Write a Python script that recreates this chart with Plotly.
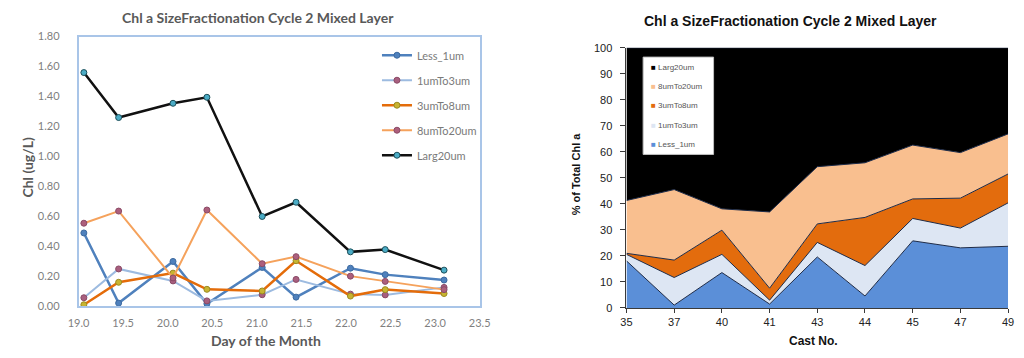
import plotly.graph_objects as go

# ---- Left panel: Chl a concentration by size fraction vs. day ----
days = [19.06, 19.45, 20.06, 20.44, 21.06, 21.44, 22.05, 22.44, 23.10]
less_1um = [0.49, 0.022, 0.30, 0.018, 0.26, 0.062, 0.255, 0.212, 0.176]
um1_to_3 = [0.058, 0.25, 0.17, 0.037, 0.078, 0.18, 0.082, 0.077, 0.127]
um3_to_8 = [0.011, 0.161, 0.222, 0.114, 0.103, 0.305, 0.069, 0.112, 0.086]
um8_to_20 = [0.555, 0.636, 0.19, 0.643, 0.285, 0.332, 0.202, 0.167, 0.112]
larg_20um = [1.56, 1.26, 1.355, 1.395, 0.60, 0.695, 0.364, 0.379, 0.242]

# ---- Right panel: percent of total Chl a by cast ----
casts = ["35", "37", "40", "41", "43", "44", "45", "47", "49"]
pct_less_1um = [18.1, 1.1, 13.6, 1.5, 19.6, 4.6, 25.8, 23.1, 23.7]
pct_1_to_3 = [2.5, 10.6, 7.0, 1.5, 5.6, 11.7, 8.6, 7.6, 16.7]
pct_3_to_8 = [0.4, 6.7, 9.3, 4.6, 7.1, 18.5, 7.5, 11.5, 11.1]
pct_8_to_20 = [20.3, 27.1, 8.2, 29.3, 22.0, 21.0, 20.7, 17.5, 15.4]
pct_larg_20 = [58.7, 54.5, 61.9, 63.1, 45.7, 44.2, 37.4, 40.3, 33.1]

W, H = 1024, 358


def px_x(v):
    return v / W


def px_y(v):
    return 1 - v / H


fig = go.Figure()

left_series = [
    ("Less_1um", less_1um, "#4f81bd", "#4f81bd", "#3d6aa0", 2.5),
    ("1umTo3um", um1_to_3, "#9dbbe0", "#a85f7f", "#8a4a66", 2),
    ("3umTo8um", um3_to_8, "#e46c0a", "#c8b431", "#9a8a20", 2.5),
    ("8umTo20um", um8_to_20, "#f5a25c", "#ad5f7c", "#8a4a66", 2),
    ("Larg20um", larg_20um, "#111111", "#4bacc6", "#1d4f5a", 2.5),
]
for name, vals, lc, mc, mlc, lw in left_series:
    fig.add_trace(go.Scatter(
        x=days, y=vals, mode="lines+markers", name=name,
        line=dict(color=lc, width=lw),
        marker=dict(color=mc, size=6, line=dict(color=mlc, width=1)),
        legendgroup=name, xaxis="x", yaxis="y", legend="legend",
    ))

stack_series = [
    ("Less_1um", pct_less_1um, "#5b8fd8"),
    ("1umTo3um", pct_1_to_3, "#dde6f3"),
    ("3umTo8um", pct_3_to_8, "#e36c0d"),
    ("8umTo20um", pct_8_to_20, "#f9bf8f"),
    ("Larg20um", pct_larg_20, "#000000"),
]
for name, vals, fc in stack_series:
    fig.add_trace(go.Scatter(
        x=casts, y=vals, mode="lines", stackgroup="pct", name=name,
        line=dict(color="#1e2b47", width=1), fillcolor=fc,
        showlegend=False, xaxis="x2", yaxis="y2",
    ))

left_font = dict(family="Lato", size=11, color="#7f7f7f")
frame = "#a9c5e8"

fig.update_layout(
    width=W, height=H,
    margin=dict(l=0, r=0, t=0, b=0),
    paper_bgcolor="white", plot_bgcolor="white",
    xaxis=dict(
        domain=[px_x(69), px_x(479)], range=[19, 23.5], dtick=0.5, tick0=19,
        tickformat=".1f", showline=True, mirror=True, linecolor=frame, linewidth=1.5,
        showgrid=False, zeroline=False, ticks="outside", ticklen=6,
        tickcolor="rgba(0,0,0,0)", tickfont=left_font, anchor="y",
    ),
    yaxis=dict(
        domain=[px_y(310.7), px_y(30.7)], range=[0, 1.8], dtick=0.2,
        tickformat=".2f", showline=True, mirror=True, linecolor=frame, linewidth=1.5,
        showgrid=False, zeroline=False, ticks="outside", ticklen=15,
        tickcolor="rgba(0,0,0,0)", tickfont=left_font, anchor="x",
    ),
    xaxis2=dict(
        domain=[px_x(629), px_x(1019)], type="category", range=[0, 8],
        showline=True, linecolor="#3a3a3a", linewidth=1, showgrid=False,
        zeroline=False, ticks="outside", ticklen=4, tickcolor="#3a3a3a",
        tickfont=dict(family="Liberation Sans", size=11, color="#222222"),
        anchor="y2",
    ),
    yaxis2=dict(
        domain=[px_y(312.3), px_y(42.3)], range=[0, 100], dtick=10,
        showline=True, linecolor="#3a3a3a", linewidth=1, showgrid=False,
        zeroline=False, ticks="outside", ticklen=5, tickcolor="#3a3a3a",
        ticklabelstandoff=6,
        tickfont=dict(family="Liberation Sans", size=11, color="#222222"),
        anchor="x2",
    ),
    legend=dict(
        x=px_x(374), y=px_y(35), xanchor="left", yanchor="top",
        bgcolor="rgba(0,0,0,0)", font=dict(family="Lato", size=11, color="#7a7a7a"),
        tracegroupgap=6, itemwidth=30,
    ),
    showlegend=True,
)

annotations = [
    dict(text="<b>Chl a SizeFractionation Cycle 2 Mixed Layer</b>",
         x=px_x(252), y=px_y(11), font=dict(family="Lato", size=14, color="#595959")),
    dict(text="<b>Chl (ug/L)</b>", textangle=-90,
         x=px_x(17), y=px_y(166), font=dict(family="Lato", size=14, color="#595959")),
    dict(text="<b>Day of the Month</b>",
         x=px_x(261), y=px_y(346), font=dict(family="Lato", size=14, color="#595959")),
    dict(text="<b>Chl a SizeFractionation Cycle 2 Mixed Layer</b>",
         x=px_x(797), y=px_y(15), font=dict(family="Liberation Sans", size=14, color="#111111")),
    dict(text="<b>% of Total Chl a</b>", textangle=-90,
         x=px_x(577), y=px_y(173), font=dict(family="Liberation Sans", size=11, color="#111111")),
    dict(text="<b>Cast No.</b>",
         x=px_x(820), y=px_y(347), font=dict(family="Liberation Sans", size=12, color="#111111")),
]

# Boxed key for the stacked-area panel, top layer listed first
key_rows = list(reversed(stack_series))
for i, (name, _, fc) in enumerate(key_rows):
    annotations.append(dict(
        text=f"<span style='color:{fc}'>■</span> {name}",
        x=px_x(652), y=px_y(62.7 + 20 * i), xanchor="left",
        font=dict(family="Liberation Sans", size=8, color="#555555"),
    ))

for a in annotations:
    a.setdefault("xref", "paper")
    a.setdefault("yref", "paper")
    a.setdefault("showarrow", False)
    a.setdefault("xanchor", "center")
    a.setdefault("yanchor", "middle")
fig.update_layout(annotations=annotations)

# white key box sits over the black top layer, under the key text
fig.add_shape(type="rect", xref="paper", yref="paper",
              x0=px_x(646), x1=px_x(718), y0=px_y(153), y1=px_y(52),
              fillcolor="white", line=dict(color="#bfbfbf", width=1), layer="above")

fig.write_html("out.html")
